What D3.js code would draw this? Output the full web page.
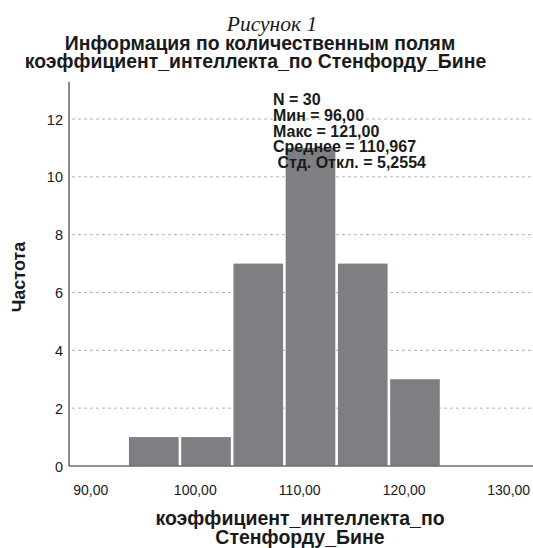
<!DOCTYPE html>
<html>
<head>
<meta charset="utf-8">
<script src="https://cdn.jsdelivr.net/npm/d3@7"></script>
<style>
  body { margin: 0; background: #fff; }
  text { font-family: "Liberation Sans", Arial, sans-serif; fill: #1a1a1a; }
</style>
</head>
<body>
<svg id="main-vis" width="533" height="548"></svg>
<script>
// histogram data
var binEdges = [93.53, 98.53, 103.53, 108.53, 113.53, 118.53, 123.53];
var counts = [1, 1, 7, 11, 7, 3];
var xTicks = [90, 100, 110, 120, 130];
var yTicks = [0, 2, 4, 6, 8, 10, 12];
var statLines = ["N = 30", "Мин = 96,00", "Макс = 121,00", "Среднее = 110,967", " Стд. Откл. = 5,2554"];

var width = 533, height = 548;
var plot = {left: 69, right: 533, top: 82, bottom: 466};

var bins = counts.map(function(c, i){
  return {x0: binEdges[i], x1: binEdges[i + 1], count: c};
});

var x = d3.scaleLinear().domain([90, 130]).range([90.8, 508.7]);
var y = d3.scaleLinear().domain([0, 12]).range([466, 119]);

var svg = d3.select('#main-vis');

// grid lines
svg.selectAll('.grid')
  .data(yTicks.filter(function(d){ return d > 0; }))
  .enter()
  .append('line')
    .attr('x1', plot.left + 3)
    .attr('x2', plot.right)
    .attr('y1', function(d){ return y(d); })
    .attr('y2', function(d){ return y(d); })
    .attr('stroke', '#b4b4b4')
    .attr('stroke-width', 1)
    .attr('stroke-dasharray', '3,3');

// bars
svg.selectAll('.bar')
  .data(bins)
  .enter()
  .append('rect')
    .attr('x', function(d){ return x(d.x0) + 1.3; })
    .attr('width', function(d){ return x(d.x1) - x(d.x0) - 2.6; })
    .attr('y', function(d){ return y(d.count); })
    .attr('height', function(d){ return y(0) - y(d.count); })
    .attr('fill', '#7e7f83');

// axis lines
svg.append('line')
  .attr('x1', plot.left).attr('x2', plot.left)
  .attr('y1', plot.top).attr('y2', plot.bottom)
  .attr('stroke', '#6e6e70').attr('stroke-width', 1.6);
svg.append('line')
  .attr('x1', plot.left).attr('x2', plot.right)
  .attr('y1', plot.bottom).attr('y2', plot.bottom)
  .attr('stroke', '#6e6e70').attr('stroke-width', 1.6);

// y tick labels
svg.selectAll('.ylab')
  .data(yTicks)
  .enter()
  .append('text')
    .attr('x', 63)
    .attr('y', function(d){ return y(d) + 5.5; })
    .attr('text-anchor', 'end')
    .style('font-size', '14.5px')
    .text(function(d){ return d; });

// x tick labels
svg.selectAll('.xlab')
  .data(xTicks)
  .enter()
  .append('text')
    .attr('x', function(d){ return x(d); })
    .attr('y', 495)
    .attr('text-anchor', 'middle')
    .style('font-size', '14px')
    .text(function(d){ return d3.format('.2f')(d).replace('.', ','); });

// stats box
svg.selectAll('.stat')
  .data(statLines)
  .enter()
  .append('text')
    .attr('x', 273)
    .attr('y', function(d, i){ return 105 + i * 15.8; })
    .attr('xml:space', 'preserve')
    .style('font-size', '16px')
    .style('font-weight', 'bold')
    .text(function(d){ return d; });

// titles
svg.append('text')
  .attr('x', 272).attr('y', 30.5)
  .attr('text-anchor', 'middle')
  .style('font-family', '"Liberation Serif", "Times New Roman", serif')
  .style('font-style', 'italic')
  .style('font-size', '21.5px')
  .text('Рисунок 1');

svg.append('text')
  .attr('x', 260).attr('y', 49.5)
  .attr('text-anchor', 'middle')
  .style('font-size', '19.4px')
  .style('font-weight', 'bold')
  .text('Информация по количественным полям');

svg.append('text')
  .attr('x', 255.5).attr('y', 67.5)
  .attr('text-anchor', 'middle')
  .style('font-size', '19.4px')
  .style('font-weight', 'bold')
  .text('коэффициент_интеллекта_по Стенфорду_Бине');

// axis titles
svg.append('text')
  .attr('transform', 'translate(25,277) rotate(-90)')
  .attr('text-anchor', 'middle')
  .style('font-size', '18px')
  .style('font-weight', 'bold')
  .text('Частота');

svg.append('text')
  .attr('x', 300).attr('y', 524.5)
  .attr('text-anchor', 'middle')
  .style('font-size', '19.5px')
  .style('font-weight', 'bold')
  .text('коэффициент_интеллекта_по');

svg.append('text')
  .attr('x', 300).attr('y', 543.5)
  .attr('text-anchor', 'middle')
  .style('font-size', '19.5px')
  .style('font-weight', 'bold')
  .text('Стенфорду_Бине');
</script>
</body>
</html>
